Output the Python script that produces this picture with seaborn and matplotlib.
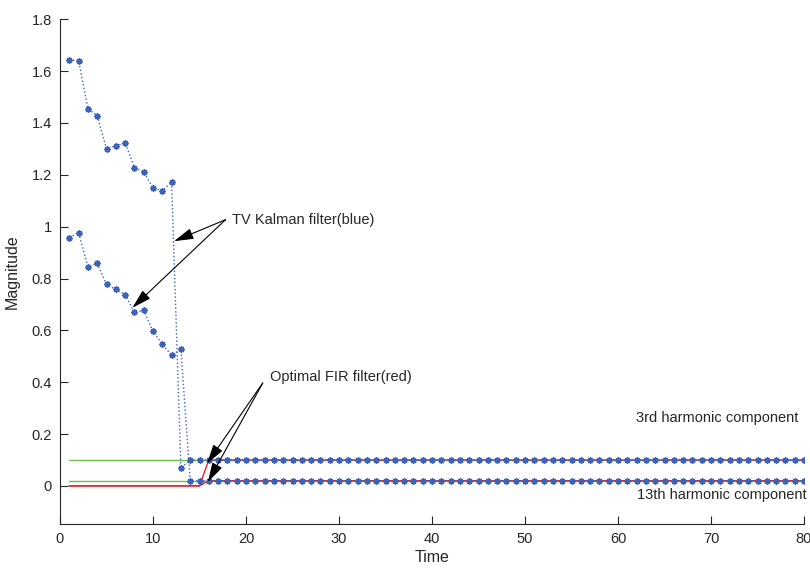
import numpy as np
import pandas as pd
import matplotlib
matplotlib.use("Agg")
import matplotlib.pyplot as plt
import seaborn as sns

# ---- data ----
t = list(range(1, 81))
kalman_3rd = [1.644, 1.640, 1.455, 1.428, 1.300, 1.312, 1.324, 1.228, 1.211, 1.150,
              1.138, 1.173, 0.068] + [0.10] * 67
kalman_13th = [0.958, 0.977, 0.846, 0.858, 0.777, 0.758, 0.738, 0.669, 0.677, 0.596,
               0.546, 0.504, 0.527] + [0.02] * 67
fir_3rd = [0.0] * 15 + [0.10] * 65
fir_13th = [0.0] * 15 + [0.02] * 65
true_3rd = [0.10] * 80
true_13th = [0.02] * 80

xticks = [0, 10, 20, 30, 40, 50, 60, 70, 80]
yticks = [0, 0.2, 0.4, 0.6, 0.8, 1.0, 1.2, 1.4, 1.6, 1.8]

# ---- style ----
sns.set_style("white")
plt.rcParams['font.family'] = ['Liberation Sans', 'DejaVu Sans']

BLUE = '#3d62b8'
GREEN = '#6cbf4a'
RED = '#e8202a'
DARK = '#262626'

fig = plt.figure(figsize=(8.1, 5.69), dpi=100)
ax = fig.add_axes([60 / 810, 1 - 524 / 569, (804 - 60) / 810, (524 - 19.3) / 569])

df = pd.DataFrame({"t": t, "k3": kalman_3rd, "k13": kalman_13th,
                   "f3": fir_3rd, "f13": fir_13th, "g3": true_3rd, "g13": true_13th})

for col in ["g3", "g13"]:
    sns.lineplot(data=df, x="t", y=col, ax=ax, color=GREEN, lw=1.0)
for col in ["f3", "f13"]:
    sns.lineplot(data=df, x="t", y=col, ax=ax, color=RED, lw=1.0)
for col in ["k3", "k13"]:
    sns.lineplot(data=df, x="t", y=col, ax=ax, color=BLUE, lw=1.0, linestyle=':',
                 marker=(8, 2, 0), markersize=4.5, markeredgecolor=BLUE,
                 markerfacecolor=BLUE, markeredgewidth=1.1)

ax.set_xlim(0, 80)
ax.set_ylim(-0.147, 1.8)
ax.set_xticks(xticks)
ax.set_yticks(yticks)
ax.set_yticklabels([f"{v:g}" for v in yticks])
ax.set_xticklabels([str(v) for v in xticks])
ax.tick_params(direction='in', length=5.5, width=0.8, colors=DARK, labelsize=10.5,
               left=True, bottom=True, pad=6)
for s in ["top", "right"]:
    ax.spines[s].set_visible(False)
for s in ["left", "bottom"]:
    ax.spines[s].set_color(DARK)
    ax.spines[s].set_linewidth(0.8)

ax.set_xlabel("Time", fontsize=11.5, color=DARK, labelpad=3)
ax.set_ylabel("Magnitude", fontsize=11.5, color=DARK, labelpad=8)

arrow_kw = dict(arrowstyle='-|>,head_length=0.6,head_width=0.17', color='k', lw=0.8,
                mutation_scale=20, shrinkA=0, shrinkB=0)
# Kalman annotation
kal_tail = (17.8, 1.027)
ax.text(18.5, 1.027, "TV Kalman filter(blue)", fontsize=10.5, color=DARK,
        va='center', ha='left')
ax.annotate("", xy=(12.26, 0.944), xytext=kal_tail, arrowprops=arrow_kw)
ax.annotate("", xy=(7.78, 0.687), xytext=kal_tail, arrowprops=arrow_kw)
# FIR annotation
fir_tail = (21.8, 0.397)
ax.text(22.6, 0.422, "Optimal FIR filter(red)", fontsize=10.5, color=DARK,
        va='center', ha='left')
ax.annotate("", xy=(15.8, 0.086), xytext=fir_tail, arrowprops=arrow_kw)
ax.annotate("", xy=(15.9, 0.015), xytext=fir_tail, arrowprops=arrow_kw)

ax.text(61.9, 0.26, "3rd harmonic component", fontsize=10.5, color=DARK, va='center', ha='left')
ax.text(62.0, -0.036, "13th harmonic component", fontsize=10.5, color=DARK, va='center', ha='left')

fig.savefig("out.png", dpi=100)
